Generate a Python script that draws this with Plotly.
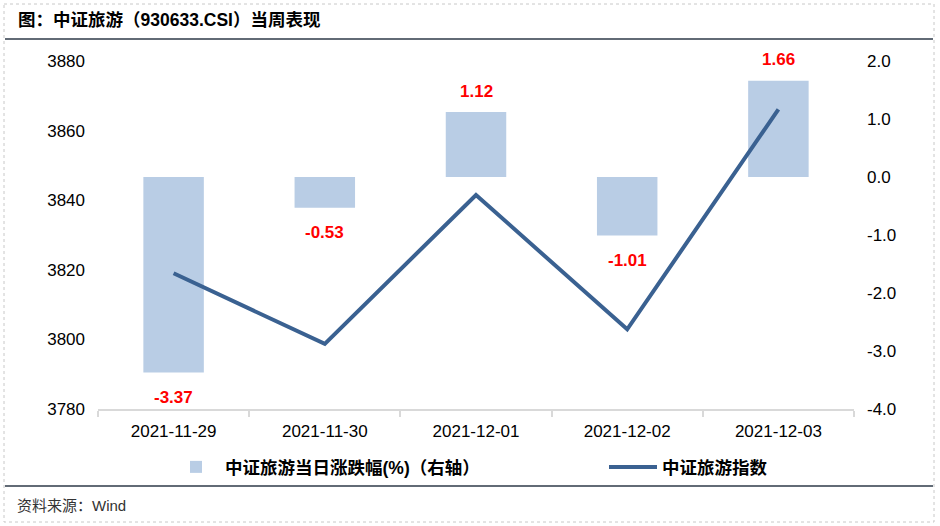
import plotly.graph_objects as go

# ---- data ----
dates = ["2021-11-29", "2021-11-30", "2021-12-01", "2021-12-02", "2021-12-03"]
pct_change = [-3.37, -0.53, 1.12, -1.01, 1.66]
index_close = [3819.0, 3798.7, 3841.5, 3802.9, 3866.1]

pct_ticks = [-4, -3, -2, -1, 0, 1, 2]
pct_tick_labels = ["-4.0", "-3.0", "-2.0", "-1.0", "0.0", "1.0", "2.0"]
index_ticks = [3780, 3800, 3820, 3840, 3860, 3880]

bar_name = "中证旅游当日涨跌幅(%)（右轴）"
line_name = "中证旅游指数"
title_text = "图：中证旅游（930633.CSI）当周表现"
source_text = "资料来源：Wind"

# ---- layout geometry (pixels) ----
W, H = 940, 526
ML, MR, MT, MB = 98, 86, 61, 117
PW = W - ML - MR
PH = H - MT - MB

def px_x(p):
    return (p - ML) / PW

def px_y(p):
    return (H - MB - p) / PH

FONT = "Liberation Sans, Arial, Noto Sans CJK SC, sans-serif"
BAR_COLOR = "#B9CDE5"
LINE_COLOR = "#3A6191"

fig = go.Figure()
fig.add_trace(go.Bar(
    x=dates, y=pct_change, name=bar_name, yaxis="y", legend="legend",
    marker=dict(color=BAR_COLOR, line=dict(width=0)),
    width=0.40,
))
fig.add_trace(go.Scatter(
    x=dates, y=index_close, name=line_name, yaxis="y2", legend="legend2",
    mode="lines", line=dict(color=LINE_COLOR, width=4),
))

annotations = []
for d, v in zip(dates, pct_change):
    annotations.append(dict(
        x=d, y=v, xref="x", yref="y", text=f"{v:.2f}", showarrow=False,
        yshift=21 if v >= 0 else -25, yanchor="middle",
        font=dict(family=FONT, size=17, color="#FF0000", weight="bold"),
    ))
annotations.append(dict(
    x=px_x(15), y=px_y(505), xref="paper", yref="paper", xanchor="left",
    yanchor="middle", text=source_text, showarrow=False,
    font=dict(family=FONT, size=15, color="#333333"),
))

shapes = [
    dict(type="line", xref="paper", yref="paper", x0=px_x(5), x1=px_x(933),
         y0=px_y(39), y1=px_y(39), line=dict(color="#2E3A48", width=1.5)),
    dict(type="line", xref="paper", yref="paper", x0=px_x(5), x1=px_x(933),
         y0=px_y(486), y1=px_y(486), line=dict(color="#2E3A48", width=1.5)),
    dict(type="rect", xref="paper", yref="paper", x0=px_x(4), x1=px_x(934),
         y0=px_y(4), y1=px_y(522), line=dict(color="#C8C8C8", width=1, dash="dot")),
]

legend_font = dict(family=FONT, size=17.5, color="#000000", weight="bold")

fig.update_layout(
    width=W, height=H,
    margin=dict(l=ML, r=MR, t=MT, b=MB, pad=0, autoexpand=False),
    paper_bgcolor="white", plot_bgcolor="white",
    font=dict(family=FONT, size=17, color="#000000"),
    title=dict(text=title_text, xref="container", yref="container",
               x=18 / W, y=1 - 20 / H, xanchor="left", yanchor="middle",
               font=dict(family=FONT, size=17.5, color="#000000", weight="bold")),
    xaxis=dict(type="category", showline=True, linecolor="#D9D9D9", linewidth=2,
               ticks="outside", ticklen=6, tickcolor="#D9D9D9", tickwidth=2,
               tickson="boundaries", showgrid=False, zeroline=False,
               ticklabelstandoff=6, tickfont=dict(size=17)),
    yaxis=dict(side="right", range=[-4, 2], tickvals=pct_ticks,
               ticktext=pct_tick_labels,
               showgrid=False, zeroline=False, showline=False,
               ticks="", ticklabelstandoff=12, tickfont=dict(size=17)),
    yaxis2=dict(overlaying="y", side="left", range=[3780, 3880],
                tickvals=index_ticks,
                showgrid=False, zeroline=False, showline=False,
                ticks="", ticklabelstandoff=12, tickfont=dict(size=17)),
    legend=dict(orientation="h", xref="container", yref="container",
                x=167 / W, y=1 - 467 / H, xanchor="left", yanchor="middle",
                itemwidth=48, font=legend_font, bgcolor="rgba(0,0,0,0)"),
    legend2=dict(orientation="h", xref="container", yref="container",
                 x=604 / W, y=1 - 467 / H, xanchor="left", yanchor="middle",
                 itemwidth=48, font=legend_font, bgcolor="rgba(0,0,0,0)"),
    showlegend=True,
    annotations=annotations,
    shapes=shapes,
    bargap=0.6,
)

fig.write_html("out.html", config={"displayModeBar": False},
               post_script="document.body.style.margin='0';")
